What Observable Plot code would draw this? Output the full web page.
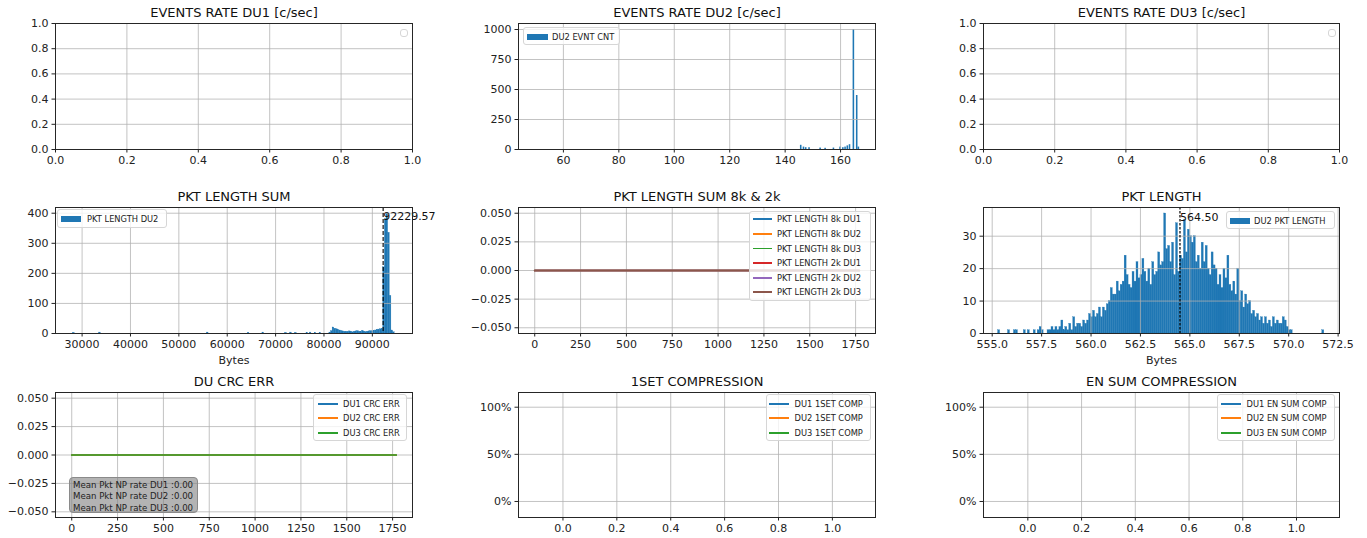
<!DOCTYPE html>
<html><head><meta charset="utf-8">
<script src="https://cdn.jsdelivr.net/npm/d3@7"></script>
<script src="https://cdn.jsdelivr.net/npm/@observablehq/plot@0.6"></script>
<style>
body{margin:0;background:#fff;}
#root{position:relative;width:1367px;height:538px;overflow:hidden;font-family:"DejaVu Sans",sans-serif;color:#222;}
.lg{position:absolute;border:1px solid #d6d6d6;border-radius:3px;background:rgba(255,255,255,0.8);box-sizing:border-box;}
.lgrow{position:absolute;height:12px;line-height:12px;font-size:8.3px;white-space:nowrap;color:#222;}
.sw{position:absolute;}
.note{position:absolute;background:rgba(128,128,128,0.6);border:1px solid #8a8a8a;border-radius:4px;box-sizing:border-box;font-size:8.6px;color:#222;}
.note div{position:absolute;left:3px;height:11px;line-height:11px;white-space:nowrap;}
</style></head><body><div id="root"></div><script>
// ---------- data ----------
const titles = ["EVENTS RATE DU1 [c/sec]", "EVENTS RATE DU2 [c/sec]", "EVENTS RATE DU3 [c/sec]",
  "PKT LENGTH SUM", "PKT LENGTH SUM 8k & 2k", "PKT LENGTH",
  "DU CRC ERR", "1SET COMPRESSION", "EN SUM COMPRESSION"];

const unitTicks = [0, 0.2, 0.4, 0.6, 0.8, 1.0];

// DU2 event rate (bars)
const evtRateX = [145.8, 146.8, 147.6, 148.8, 152.8, 154.6, 157.6, 160.0, 161.0, 161.8, 162.6, 163.4, 164.8, 166.0, 166.6];
const evtRateCount = [35, 20, 15, 15, 12, 10, 12, 20, 15, 20, 30, 40, 1000, 450, 20];
const evtXTicks = [60, 80, 100, 120, 140, 160];
const evtYTicks = [0, 250, 500, 750, 1000];

// PKT LENGTH SUM histogram (bin left edges, counts)
const pktSumBinWidth = 337.5;
const pktSumEdges = [28125, 33525, 55800, 64237.5, 67275, 72000, 73012.5, 74025, 76387.5, 77062.5, 78075, 79087.5,
  81112.5, 81450, 81787.5, 82125, 82462.5, 82800, 83137.5, 83475, 83812.5, 84150, 84487.5, 84825, 85162.5, 85500,
  85837.5, 86175, 86512.5, 86850, 87187.5, 87525, 87862.5, 88200, 88537.5, 88875, 89212.5, 89550, 89887.5, 90225,
  90562.5, 90900, 91237.5, 91575, 91912.5, 92250, 92587.5, 92925, 93262.5, 93600, 93937.5, 94275];
const pktSumCounts = [2, 3, 3, 2, 3, 2, 3, 2, 2, 3, 2, 2,
  3, 8, 20, 16, 14, 12, 10, 8, 7, 6, 5, 6, 7, 5,
  4, 6, 7, 8, 6, 5, 9, 6, 5, 6, 7, 8, 7, 9,
  10, 12, 13, 14, 15, 220, 380, 399, 335, 125, 10, 4];
const pktSumMean = 92229.57;
const pktSumXTicks = [30000, 40000, 50000, 60000, 70000, 80000, 90000];
const pktSumYTicks = [0, 100, 200, 300, 400];

// PKT LENGTH SUM 8k & 2k (all zero)
const sampleIdx = [0, 1770];
const len8kDU1 = [0, 0], len8kDU2 = [0, 0], len8kDU3 = [0, 0];
const len2kDU1 = [0, 0], len2kDU2 = [0, 0], len2kDU3 = [0, 0];
const sumLabels = ["PKT LENGTH 8k DU1", "PKT LENGTH 8k DU2", "PKT LENGTH 8k DU3", "PKT LENGTH 2k DU1", "PKT LENGTH 2k DU2", "PKT LENGTH 2k DU3"];
const idxTicks = [0, 250, 500, 750, 1000, 1250, 1500, 1750];
const smallTicks = [-0.05, -0.025, 0, 0.025, 0.05];

// PKT LENGTH histogram (bin starts, counts)
const pktLenBinWidth = 0.1;
const pktLenStarts = [555.3, 555.8, 556.1, 556.2, 556.6, 556.8, 557.1, 557.3, 557.4, 557.5, 557.8, 557.9, 558.0, 558.1, 558.2, 558.3, 558.4, 558.5, 558.6, 558.7, 558.8, 558.9,
  559.0, 559.1, 559.2, 559.3, 559.4, 559.5, 559.6, 559.7, 559.8, 559.9, 560.0, 560.1, 560.2, 560.3, 560.4, 560.5, 560.6, 560.7, 560.8, 560.9,
  561.0, 561.1, 561.2, 561.3, 561.4, 561.5, 561.6, 561.7, 561.8, 561.9, 562.0, 562.1, 562.2, 562.3, 562.4, 562.5, 562.6, 562.7, 562.8, 562.9,
  563.0, 563.1, 563.2, 563.3, 563.4, 563.5, 563.6, 563.7, 563.8, 563.9, 564.0, 564.1, 564.2, 564.3, 564.4, 564.5, 564.6, 564.7, 564.8, 564.9,
  565.0, 565.1, 565.2, 565.3, 565.4, 565.5, 565.6, 565.7, 565.8, 565.9, 566.0, 566.1, 566.2, 566.3, 566.4, 566.5, 566.6, 566.7, 566.8, 566.9,
  567.0, 567.1, 567.2, 567.3, 567.4, 567.5, 567.6, 567.7, 567.8, 567.9, 568.0, 568.1, 568.2, 568.3, 568.4, 568.5, 568.6, 568.7, 568.8, 568.9,
  569.0, 569.1, 569.2, 569.3, 569.4, 569.5, 569.6, 569.7, 569.8, 569.9, 570.0, 570.1, 571.7];
const pktLenCounts = [1, 1, 1, 1, 1, 1, 1, 1, 2, 1, 1, 1, 2, 1, 2, 1, 2, 4, 1, 2, 1, 3,
  1, 5, 2, 3, 3, 2, 4, 3, 4, 6, 5, 7, 5, 6, 8, 5, 8, 7, 9, 10,
  14, 12, 12, 16, 13, 15, 16, 24, 18, 15, 14, 19, 16, 22, 17, 18, 23, 19, 16, 20,
  15, 22, 18, 19, 25, 21, 22, 37, 26, 27, 22, 28, 18, 34, 19, 24, 23, 35, 25, 32,
  30, 28, 30, 22, 24, 20, 28, 22, 27, 20, 18, 25, 21, 20, 15, 18, 14, 20, 17, 24,
  15, 13, 16, 12, 20, 10, 13, 8, 12, 9, 10, 6, 7, 5, 6, 4, 5, 3, 5, 3,
  4, 2, 5, 3, 4, 3, 3, 5, 4, 2, 1, 1, 1];
const pktLenMean = 564.50;
const pktLenXTicks = [555.0, 557.5, 560.0, 562.5, 565.0, 567.5, 570.0, 572.5];
const pktLenYTicks = [0, 10, 20, 30];

// DU CRC ERR (all zero)
const crcDU1 = [0, 0], crcDU2 = [0, 0], crcDU3 = [0, 0];
const crcLabels = ["DU1 CRC ERR", "DU2 CRC ERR", "DU3 CRC ERR"];
const npRateLabels = ["Mean Pkt NP rate DU1 :0.00", "Mean Pkt NP rate DU2 :0.00", "Mean Pkt NP rate DU3 :0.00"];

// compression (no data)
const comp1DU1 = [], comp1DU2 = [], comp1DU3 = [];
const compEnDU1 = [], compEnDU2 = [], compEnDU3 = [];
const comp1Labels = ["DU1 1SET COMP", "DU2 1SET COMP", "DU3 1SET COMP"];
const compEnLabels = ["DU1 EN SUM COMP", "DU2 EN SUM COMP", "DU3 EN SUM COMP"];
const pctTicks = [0, 0.5, 1];

const tab10 = ["#1f77b4", "#ff7f0e", "#2ca02c", "#d62728", "#9467bd", "#8c564b"];

// ---------- layout ----------
const root = document.getElementById("root");
const cols = [[55, 412], [518, 875], [983, 1339]];
const rowsY = [[23, 149], [207, 333], [392, 517]];
const ML = 52, MR = 50, MT = 22, MB = 36;
const GRID = "#b0b0b0";

function panel(c, r, {title, xDomain, yDomain, xTicks, yTicks, xFmt, yFmt, patches = [], marks = [], xLabel}) {
  const fw = cols[c][1] - cols[c][0], fh = rowsY[r][1] - rowsY[r][0];
  const all = [
    ...patches,
    Plot.gridX(xTicks, {stroke: GRID, strokeOpacity: 0.85, strokeWidth: 0.9}),
    Plot.gridY(yTicks, {stroke: GRID, strokeOpacity: 0.85, strokeWidth: 0.9}),
    ...marks,
    Plot.frame({stroke: "#262626", strokeWidth: 1}),
    Plot.axisX({ticks: xTicks, tickFormat: xFmt, tickSize: 3.5, tickPadding: 3, label: null, fontSize: 11}),
    Plot.axisY({ticks: yTicks, tickFormat: yFmt, tickSize: 3.5, tickPadding: 3.5, label: null, fontSize: 11}),
    Plot.text([title], {text: d => d, frameAnchor: "top", lineAnchor: "middle", dy: -11, fontSize: 13, fill: "#111"})
  ];
  if (xLabel) all.push(Plot.text([xLabel], {text: d => d, frameAnchor: "bottom", lineAnchor: "middle", dy: 27, fontSize: 11, fill: "#222"}));
  const svg = Plot.plot({
    width: ML + fw + MR, height: MT + fh + MB,
    marginLeft: ML, marginRight: MR, marginTop: MT, marginBottom: MB,
    x: {domain: xDomain, axis: null},
    y: {domain: yDomain, axis: null},
    style: {fontFamily: "DejaVu Sans", fontSize: "11px", color: "#222", background: "transparent", overflow: "visible"},
    marks: all
  });
  svg.style.position = "absolute";
  svg.style.left = (cols[c][0] - ML) + "px";
  svg.style.top = (rowsY[r][0] - MT) + "px";
  root.appendChild(svg);
}
const f1 = d3.format(".1f"), fd = d3.format("d"), f3 = d3.format(".3f"), fp = d3.format(".0%");

function lines(series, colors) {
  return series.map((s, k) => Plot.line(s.map((v, i) => ({i: sampleIdx[i], v})), {x: "i", y: "v", stroke: colors[k], strokeWidth: 1.7}));
}

// Panel 1
panel(0, 0, {title: titles[0], xDomain: [0, 1], yDomain: [0, 1], xTicks: unitTicks, yTicks: unitTicks, xFmt: f1, yFmt: f1});
// Panel 2
const evtData = evtRateX.map((x, i) => ({x, n: evtRateCount[i]}));
panel(1, 0, {title: titles[1], xDomain: [43.8, 172.6], yDomain: [0, 1050], xTicks: evtXTicks, yTicks: evtYTicks, xFmt: fd, yFmt: fd,
  patches: [Plot.rect(evtData, {x1: d => d.x - 0.28, x2: d => d.x + 0.28, y1: 0, y2: "n", fill: tab10[0]})]});
// Panel 3
panel(2, 0, {title: titles[2], xDomain: [0, 1], yDomain: [0, 1], xTicks: unitTicks, yTicks: unitTicks, xFmt: f1, yFmt: f1});
// Panel 4
const sumData = pktSumEdges.map((e, i) => ({e, n: pktSumCounts[i]}));
panel(0, 1, {title: titles[3], xDomain: [24500, 98300], yDomain: [0, 419], xTicks: pktSumXTicks, yTicks: pktSumYTicks, xFmt: fd, yFmt: fd, xLabel: "Bytes",
  patches: [Plot.rect(sumData, {x1: "e", x2: d => d.e + pktSumBinWidth, y1: 0, y2: "n", fill: tab10[0], stroke: tab10[0], strokeWidth: 0.3})],
  marks: [
    Plot.ruleX([pktSumMean], {stroke: "#000", strokeWidth: 1.1, strokeDasharray: "4,2"}),
    Plot.text([pktSumMean], {x: d => d, text: d => d.toFixed(2), frameAnchor: "top", lineAnchor: "middle", textAnchor: "start", dy: 9, fontSize: 11, fill: "#111"})
  ]});
// Panel 5
panel(1, 1, {title: titles[4], xDomain: [-88.5, 1858.5], yDomain: [-0.055, 0.055], xTicks: idxTicks, yTicks: smallTicks, xFmt: fd, yFmt: f3,
  marks: lines([len8kDU1, len8kDU2, len8kDU3, len2kDU1, len2kDU2, len2kDU3], tab10)});
// Panel 6
const lenData = pktLenStarts.map((s, i) => ({s, n: pktLenCounts[i]}));
panel(2, 1, {title: titles[5], xDomain: [554.56, 572.57], yDomain: [0, 38.85], xTicks: pktLenXTicks, yTicks: pktLenYTicks, xFmt: f1, yFmt: fd, xLabel: "Bytes",
  patches: [Plot.rect(lenData, {x1: "s", x2: d => d.s + pktLenBinWidth, y1: 0, y2: "n", fill: tab10[0], stroke: tab10[0], strokeWidth: 0.3})],
  marks: [
    Plot.ruleX([pktLenMean], {stroke: "#000", strokeWidth: 1.2, strokeDasharray: "2.5,1.5"}),
    Plot.text([pktLenMean], {x: d => d, text: d => d.toFixed(2), frameAnchor: "top", lineAnchor: "middle", textAnchor: "start", dy: 10, fontSize: 11, fill: "#111"})
  ]});
// Panel 7
panel(0, 2, {title: titles[6], xDomain: [-88.5, 1858.5], yDomain: [-0.055, 0.055], xTicks: idxTicks, yTicks: smallTicks, xFmt: fd, yFmt: f3,
  marks: lines([crcDU1, crcDU2, crcDU3], tab10)});
// Panel 8
panel(1, 2, {title: titles[7], xDomain: [-0.165, 1.16], yDomain: [-0.17, 1.156], xTicks: unitTicks, yTicks: pctTicks, xFmt: f1, yFmt: fp,
  marks: lines([comp1DU1, comp1DU2, comp1DU3], tab10)});
// Panel 9
panel(2, 2, {title: titles[8], xDomain: [-0.165, 1.16], yDomain: [-0.17, 1.156], xTicks: unitTicks, yTicks: pctTicks, xFmt: f1, yFmt: fp,
  marks: lines([compEnDU1, compEnDU2, compEnDU3], tab10)});

// ---------- legends (overlays) ----------
function legend(box, labels, colors, type, o) {
  const d = document.createElement("div");
  d.className = "lg";
  Object.assign(d.style, {left: box[0] + "px", top: box[1] + "px", width: box[2] + "px", height: box[3] + "px"});
  labels.forEach((lab, i) => {
    const cy = o.first + i * o.rowH;
    const sw = document.createElement("div");
    sw.className = "sw";
    if (type === "patch") Object.assign(sw.style, {left: o.sx + "px", top: (cy - 3) + "px", width: o.sw + "px", height: "6px", background: colors[i]});
    else Object.assign(sw.style, {left: o.sx + "px", top: (cy - 0.9) + "px", width: o.sw + "px", height: "1.8px", background: colors[i]});
    d.appendChild(sw);
    const t = document.createElement("div");
    t.className = "lgrow";
    t.textContent = lab;
    Object.assign(t.style, {left: o.tx + "px", top: (cy - 6) + "px"});
    d.appendChild(t);
  });
  root.appendChild(d);
}
// empty legends
legend([400, 29, 8, 8], [], [], "line", {});
legend([1328, 29, 8, 8], [], [], "line", {});
legend([523, 27, 97, 18], ["DU2 EVNT CNT"], [tab10[0]], "patch", {first: 8.5, rowH: 14.5, sx: 3, sw: 21, tx: 28});
legend([57, 209, 110, 19], ["PKT LENGTH DU2"], [tab10[0]], "patch", {first: 9, rowH: 14.5, sx: 3, sw: 20, tx: 29});
legend([1226, 211, 109, 18], ["DU2 PKT LENGTH"], [tab10[0]], "patch", {first: 8.5, rowH: 14.5, sx: 3, sw: 20, tx: 27});
legend([749, 211, 122, 90], sumLabels, tab10, "line", {first: 7.3, rowH: 14.6, sx: 2.5, sw: 19, tx: 27});
legend([313, 394, 94, 47], crcLabels, tab10, "line", {first: 8.7, rowH: 14.5, sx: 3.5, sw: 20, tx: 29});
legend([766, 394, 105, 47], comp1Labels, tab10, "line", {first: 8.7, rowH: 14.5, sx: 2, sw: 20, tx: 27.5});
legend([1217, 394, 118, 47], compEnLabels, tab10, "line", {first: 8.7, rowH: 14.5, sx: 3, sw: 20, tx: 28.5});

// note box in DU CRC ERR
const note = document.createElement("div");
note.className = "note";
Object.assign(note.style, {left: "69px", top: "477px", width: "129px", height: "36px"});
npRateLabels.forEach((s, i) => {
  const t = document.createElement("div");
  t.textContent = s;
  t.style.top = (1.8 + i * 11.5) + "px";
  note.appendChild(t);
});
root.appendChild(note);
</script></body></html>
